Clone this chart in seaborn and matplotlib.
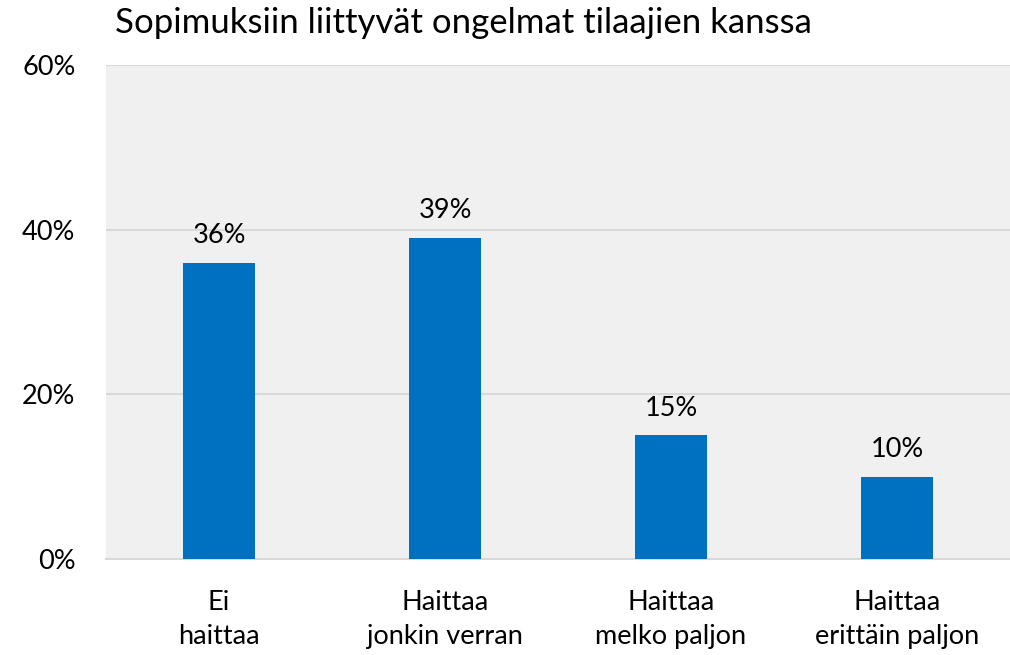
import matplotlib
matplotlib.use('Agg')
import matplotlib.pyplot as plt
import seaborn as sns
import pandas as pd
from matplotlib.ticker import PercentFormatter

categories = ['Ei\nhaittaa', 'Haittaa\njonkin verran', 'Haittaa\nmelko paljon', 'Haittaa\nerittäin paljon']
values = [36, 39, 15, 10]
title = 'Sopimuksiin liittyvät ongelmat tilaajien kanssa'

sns.set_theme(style='white')
plt.rcParams['font.family'] = ['Lato', 'DejaVu Sans']

df = pd.DataFrame({'kategoria': categories, 'osuus': values})

fig = plt.figure(figsize=(10.1, 6.55), dpi=100)
ax = fig.add_axes([0.105, 0.1466, 0.895, 0.7542])
ax.set_facecolor('#F0F0F0')

sns.barplot(data=df, x='kategoria', y='osuus', color='#0070C0', saturation=1,
            width=0.32, linewidth=0, ax=ax, zorder=3)

ax.set_ylim(0, 60)
ax.set_yticks([0, 20, 40, 60])
ax.yaxis.set_major_formatter(PercentFormatter(decimals=0))
ax.grid(axis='y', color='#D9D9D9', linewidth=1.5, zorder=0)
ax.set_axisbelow(True)
for s in ['left', 'right', 'top']:
    ax.spines[s].set_visible(False)
ax.spines['bottom'].set_color('#D9D9D9')
ax.spines['bottom'].set_linewidth(1.5)

for p, v in zip(ax.patches, values):
    ax.text(p.get_x() + p.get_width() / 2, p.get_height() + 1.8, f'{v}%',
            ha='center', va='bottom', fontsize=19.5, color='black')

ax.tick_params(axis='both', length=0, labelsize=19.5, colors='black')
ax.tick_params(axis='x', pad=22)
ax.tick_params(axis='y', pad=22)
for lbl in ax.get_xticklabels():
    lbl.set_linespacing(1.45)
ax.set_xlabel('')
ax.set_ylabel('')
fig.text(0.114, 0.94, title, fontsize=25, ha='left', va='bottom', color='black')

fig.savefig('out.png', dpi=100)
